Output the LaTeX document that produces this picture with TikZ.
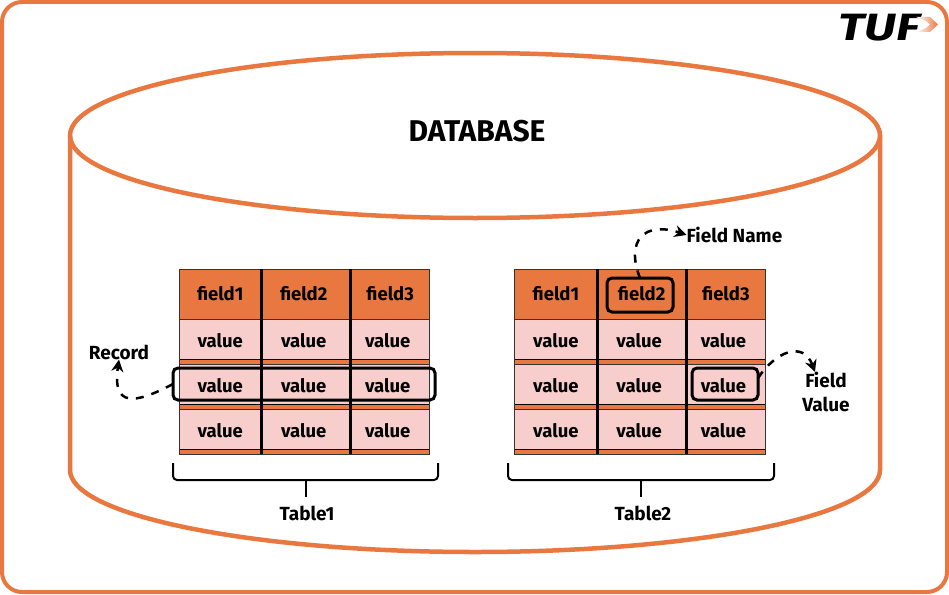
\documentclass[tikz,border=0pt]{standalone}
\usepackage{fontspec}
\setmainfont{Fira Sans}
\usepackage{tikz}
\usetikzlibrary{positioning,arrows.meta,shapes.geometric}
\definecolor{tuforange}{HTML}{E97840}
\definecolor{cellpink}{HTML}{F8CECC}

\begin{document}
\begin{tikzpicture}[
  x=1pt, y=-1pt,
  node distance=0pt,
  frame/.style={draw=tuforange, line width=4pt, rounded corners=20pt, minimum width=945pt, minimum height=590pt, outer sep=0pt},
  dbtop/.style={ellipse, draw=tuforange, line width=4.5pt, minimum width=810pt, minimum height=165pt, outer sep=0pt},
  dbside/.style={draw=tuforange, line width=4.5pt},
  cellbase/.style={draw=black!80, line width=0.8pt, outer sep=0pt, inner sep=0pt, text depth=2pt, font=\bfseries\fontsize{18.5}{20}\selectfont, anchor=center},
  headcell/.style={cellbase, fill=tuforange, minimum height=50pt},
  valcell/.style={cellbase, fill=cellpink, minimum height=45pt, path picture={
    \fill[tuforange] ([yshift=4.5pt]path picture bounding box.south west) rectangle (path picture bounding box.south east);
    \draw[black, line width=0.8pt] ([yshift=4.5pt]path picture bounding box.south west) -- ([yshift=4.5pt]path picture bounding box.south east);}},
  colA/.style={minimum width=82.5pt},
  colB/.style={minimum width=89.5pt},
  colC/.style={minimum width=78.5pt},
  nudge/.style={execute at begin node={\hspace*{-5pt}}},
  sep/.style={draw=black, line width=3pt},
  hlbox/.style={draw=black, line width=3pt, rounded corners=5pt, outer sep=0pt},
  note/.style={font=\bfseries\fontsize{19}{24}\selectfont, inner sep=0pt, align=center},
  dashlink/.style={draw=black, line width=2.5pt, dash pattern=on 8pt off 8pt, -{Stealth[length=12pt,width=12pt]}},
  brace/.style={draw=black, line width=2pt, rounded corners=4pt},
]
\useasboundingbox (0,0) rectangle (949,594);
\node[frame] (outer) at (474.5,297) {};
\node[dbtop] (db) at (475,135.5) {};
\node[font=\bfseries\fontsize{30}{32}\selectfont, inner sep=0pt] (dbtitle) at (477,131) {DATABASE};
\draw[dbside] (db.west) -- (70,470) arc[start angle=180, end angle=360, x radius=405, y radius=-82] -- (db.east);
% table 1
\node[headcell, colA] (a11) at (220.2,294) {field1};
\node[headcell, colB, nudge, right=of a11] (a12) {field2};
\node[headcell, colC, right=of a12] (a13) {field3};
\node[valcell, colA, below=of a11] (a21) {value};
\node[valcell, colB, nudge, below=of a12] (a22) {value};
\node[valcell, colC, nudge, below=of a13] (a23) {value};
\node[valcell, colA, below=of a21] (a31) {value};
\node[valcell, colB, nudge, below=of a22] (a32) {value};
\node[valcell, colC, nudge, below=of a23] (a33) {value};
\node[valcell, colA, below=of a31] (a41) {value};
\node[valcell, colB, nudge, below=of a32] (a42) {value};
\node[valcell, colC, nudge, below=of a33] (a43) {value};
\draw[sep] (a11.north east) -- (a41.south east);
\draw[sep] (a12.north east) -- (a42.south east);
% table 2
\node[headcell, colA] (b11) at (555.9,294) {field1};
\node[headcell, colB, minimum width=89pt, right=of b11] (b12) {field2};
\node[headcell, colC, minimum width=79.5pt, right=of b12] (b13) {field3};
\node[valcell, colA, below=of b11] (b21) {value};
\node[valcell, colB, minimum width=89pt, nudge, below=of b12] (b22) {value};
\node[valcell, colC, minimum width=79.5pt, nudge, below=of b13] (b23) {value};
\node[valcell, colA, below=of b21] (b31) {value};
\node[valcell, colB, minimum width=89pt, nudge, below=of b22] (b32) {value};
\node[valcell, colC, minimum width=79.5pt, nudge, below=of b23] (b33) {value};
\node[valcell, colA, below=of b31] (b41) {value};
\node[valcell, colB, minimum width=89pt, nudge, below=of b32] (b42) {value};
\node[valcell, colC, minimum width=79.5pt, nudge, below=of b33] (b43) {value};
\draw[sep] (b11.north east) -- (b41.south east);
\draw[sep] (b12.north east) -- (b42.south east);
% highlights
\node[hlbox, minimum width=262pt, minimum height=32pt] (recbox) at (304,384) {};
\node[hlbox, minimum width=66pt, minimum height=34pt] (namebox) at (640,295) {};
\node[hlbox, minimum width=66pt, minimum height=32pt] (valbox) at (725,384) {};
% notes
\node[note] (reclabel) at (119,352) {Record};
\node[note, anchor=west] (namelabel) at (686.5,235) {Field Name};
\node[note] (vallabel) at (826,392) {Field\\Value};
\draw[dashlink] (recbox.west) .. controls (135,404) and (112,408) .. (reclabel.south);
\draw[dashlink] (namebox.north) .. controls (625,240) and (645,221) .. (namelabel.west);
\draw[dashlink] (valbox.10) .. controls (775,352) and (803,340) .. ([xshift=-11pt]vallabel.north);
% braces
\coordinate (brA) at (305.7,480);
\coordinate (brB) at (641,480);
\node[note] (t1label) at (307,513) {Table1};
\node[note] (t2label) at (643,513) {Table2};
\draw[brace] (173,463) |- (438,480) -- (438,463);
\draw[brace] (508,463) |- (774,480) -- (774,463);
\draw[brace, shorten >=8pt] (brA) -- (t1label.north -| brA);
\draw[brace, shorten >=8pt] (brB) -- (t2label.north -| brB);
% logo
\node[font=\bfseries\itshape\fontsize{38}{38}\selectfont, inner sep=0pt, xscale=1.3] (logo) at (879,28) {TUF};
\path[left color=white, right color=tuforange, draw=none] (916,17) -- (930,17) -- (938,24.5) -- (930,32) -- (916,32) -- (926,28) -- (930,24.5) -- (926,21) -- cycle;
\end{tikzpicture}
\end{document}
